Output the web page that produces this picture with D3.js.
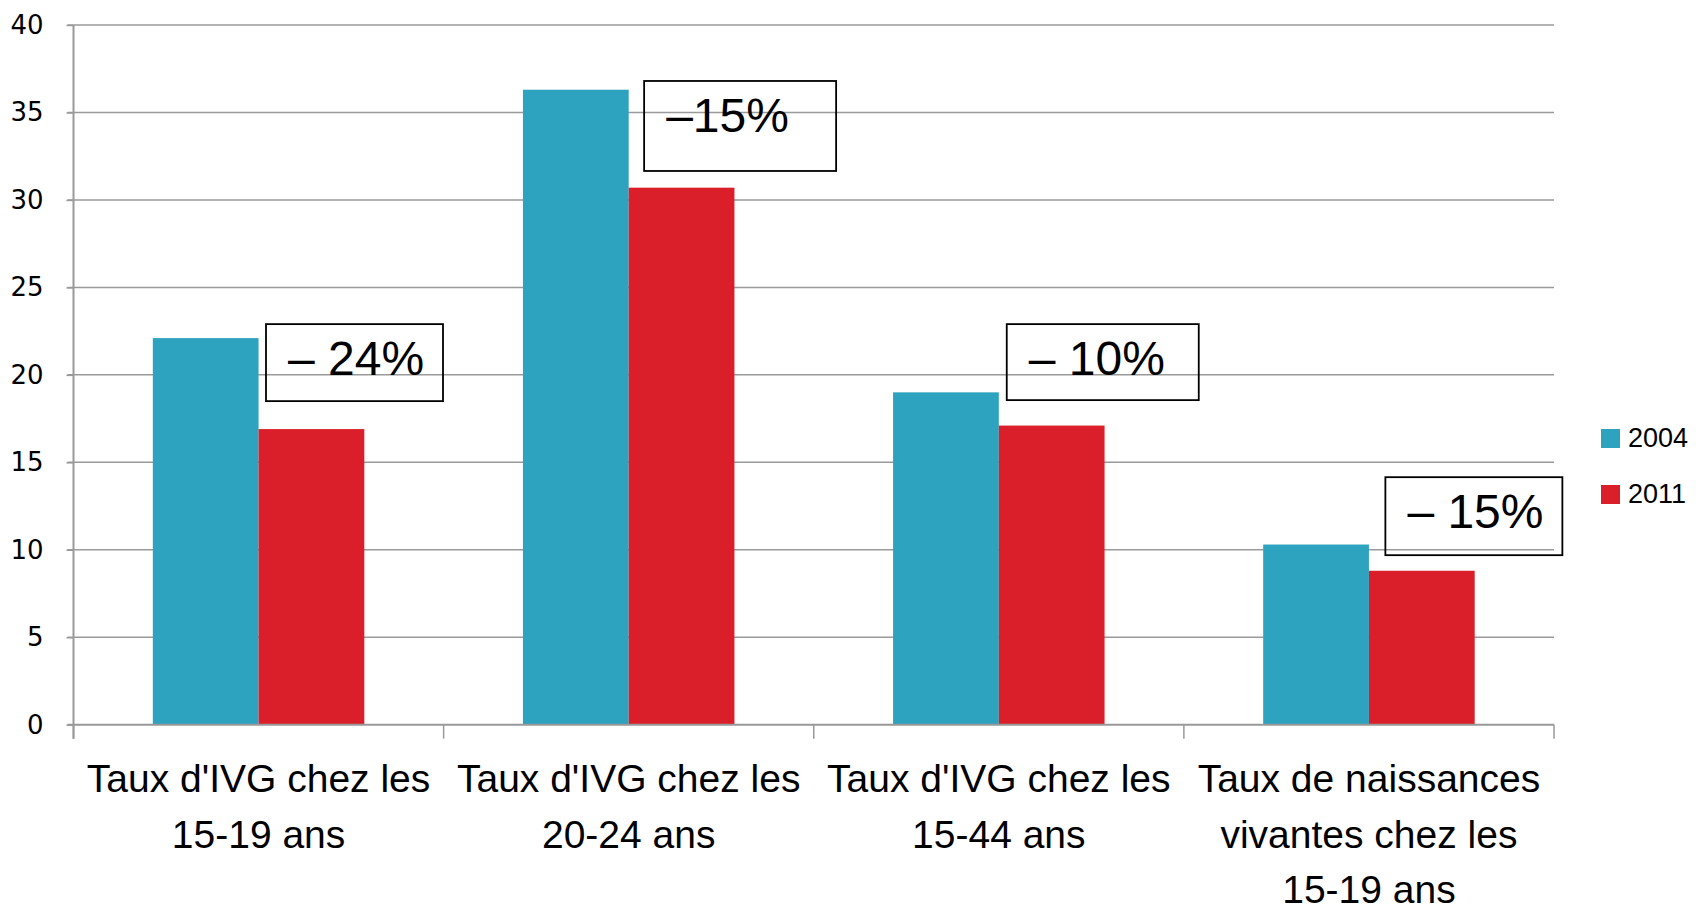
<!DOCTYPE html>
<html>
<head>
<meta charset="utf-8">
<script src="https://cdn.jsdelivr.net/npm/d3@7/dist/d3.min.js"></script>
<style>
  body { margin: 0; background: #fff; }
  svg { display: block; }
</style>
</head>
<body>
<div id="chart"></div>
<script>
// data
var categories = [
  "Taux d'IVG chez les\n15-19 ans",
  "Taux d'IVG chez les\n20-24 ans",
  "Taux d'IVG chez les\n15-44 ans",
  "Taux de naissances\nvivantes chez les\n15-19 ans"
];
var series = ["2004", "2011"];
var values2004 = [22.1, 36.3, 19.0, 10.3];
var values2011 = [16.9, 30.7, 17.1, 8.8];
var changeLabels = ["\u2013 24%", "\u201315%", "\u2013 10%", "\u2013 15%"];
var yTicks = [0, 5, 10, 15, 20, 25, 30, 35, 40];

var colors = { "2004": "#2ea3c0", "2011": "#da1f2a" };

var W = 1696, H = 912;
var pLeft = 73.5, pRight = 1554, pTop = 25, pBottom = 724.7;

var svg = d3.select('#chart').append('svg')
  .attr('width', W)
  .attr('height', H);

var y = d3.scaleLinear().domain([0, 40]).range([pBottom, pTop]);
var x0 = d3.scaleBand().domain(d3.range(categories.length)).range([pLeft, pRight]);
var x1 = d3.scaleBand().domain(series).range([0, x0.bandwidth()])
  .paddingInner(0).paddingOuter(0.75);

// gridlines
svg.append('g').selectAll('line').data(yTicks.filter(function (d) { return d > 0; }))
  .enter().append('line')
  .attr('x1', pLeft - 6).attr('x2', pRight)
  .attr('y1', function (d) { return y(d); })
  .attr('y2', function (d) { return y(d); })
  .attr('stroke', '#9a9a9a')
  .attr('stroke-width', 1.5);

// y axis
var yAxis = svg.append('g')
  .attr('transform', 'translate(' + pLeft + ',0)')
  .call(d3.axisLeft(y).tickValues(yTicks).tickSize(7).tickPadding(23));
yAxis.select('.domain').attr('stroke', '#999').attr('stroke-width', 2)
  .attr('d', 'M0,' + pTop + 'V' + (pBottom + 14));
yAxis.selectAll('.tick line').attr('stroke', '#999').attr('stroke-width', 1.5);
yAxis.selectAll('.tick text')
  .attr('font-family', 'DejaVu Sans, sans-serif')
  .attr('font-size', 26)
  .attr('fill', '#000');

// bars
var rows = categories.map(function (c, i) {
  return { i: i, vals: [{ s: "2004", v: values2004[i] }, { s: "2011", v: values2011[i] }] };
});
var groups = svg.append('g').selectAll('g').data(rows)
  .enter().append('g')
  .attr('transform', function (d) { return 'translate(' + x0(d.i) + ',0)'; });
groups.selectAll('rect').data(function (d) { return d.vals; })
  .enter().append('rect')
  .attr('x', function (d) { return x1(d.s); })
  .attr('width', x1.bandwidth())
  .attr('y', function (d) { return y(d.v); })
  .attr('height', function (d) { return y(0) - y(d.v); })
  .attr('fill', function (d) { return colors[d.s]; });

// x axis line + tick marks at category boundaries
svg.append('line')
  .attr('x1', pLeft - 6).attr('x2', pRight)
  .attr('y1', pBottom).attr('y2', pBottom)
  .attr('stroke', '#999').attr('stroke-width', 2);
var bounds = d3.range(categories.length + 1).map(function (i) { return pLeft + i * x0.step(); });
svg.append('g').selectAll('line').data(bounds)
  .enter().append('line')
  .attr('x1', function (d) { return d; }).attr('x2', function (d) { return d; })
  .attr('y1', pBottom).attr('y2', pBottom + 14)
  .attr('stroke', '#999').attr('stroke-width', 1.5);

// category labels
var labels = svg.append('g').selectAll('text').data(categories)
  .enter().append('text')
  .attr('text-anchor', 'middle')
  .attr('font-family', 'Liberation Sans, Arial, sans-serif')
  .attr('font-size', 39)
  .attr('fill', '#000');
labels.each(function (d, i) {
  var t = d3.select(this);
  d.split('\n').forEach(function (line, k) {
    t.append('tspan')
      .attr('x', x0(i) + x0.bandwidth() / 2)
      .attr('y', 792 + k * 55.5)
      .text(line);
  });
});

// change boxes (placement in pixels relative to each group)
var boxLayout = [
  { dx: 192.5, top: 22.9, w: 177, h: 77 },
  { dx: 200.5, top: 36.8, w: 192, h: 90 },
  { dx: 193, top: 22.9, w: 192, h: 76 },
  { dx: 201.5, top: 14.15, w: 177, h: 78 }
];
var boxes = svg.append('g').selectAll('g').data(changeLabels)
  .enter().append('g')
  .attr('transform', function (d, i) {
    return 'translate(' + (x0(i) + boxLayout[i].dx) + ',' + y(boxLayout[i].top) + ')';
  });
boxes.append('rect')
  .attr('width', function (d, i) { return boxLayout[i].w; })
  .attr('height', function (d, i) { return boxLayout[i].h; })
  .attr('fill', 'none')
  .attr('stroke', '#000')
  .attr('stroke-width', 1.8);
boxes.append('text')
  .attr('x', 22)
  .attr('y', 51)
  .attr('font-family', 'Liberation Sans, Arial, sans-serif')
  .attr('font-size', 48)
  .attr('fill', '#000')
  .text(function (d) { return d; });

// legend
var legend = svg.append('g').selectAll('g').data(series)
  .enter().append('g')
  .attr('transform', function (d, i) { return 'translate(1601,' + (429 + i * 56) + ')'; });
legend.append('rect')
  .attr('width', 19).attr('height', 19)
  .attr('fill', function (d) { return colors[d]; });
legend.append('text')
  .attr('x', 27).attr('y', 18)
  .attr('font-family', 'Liberation Sans, Arial, sans-serif')
  .attr('font-size', 27)
  .attr('fill', '#000')
  .text(function (d) { return d; });
</script>
</body>
</html>
